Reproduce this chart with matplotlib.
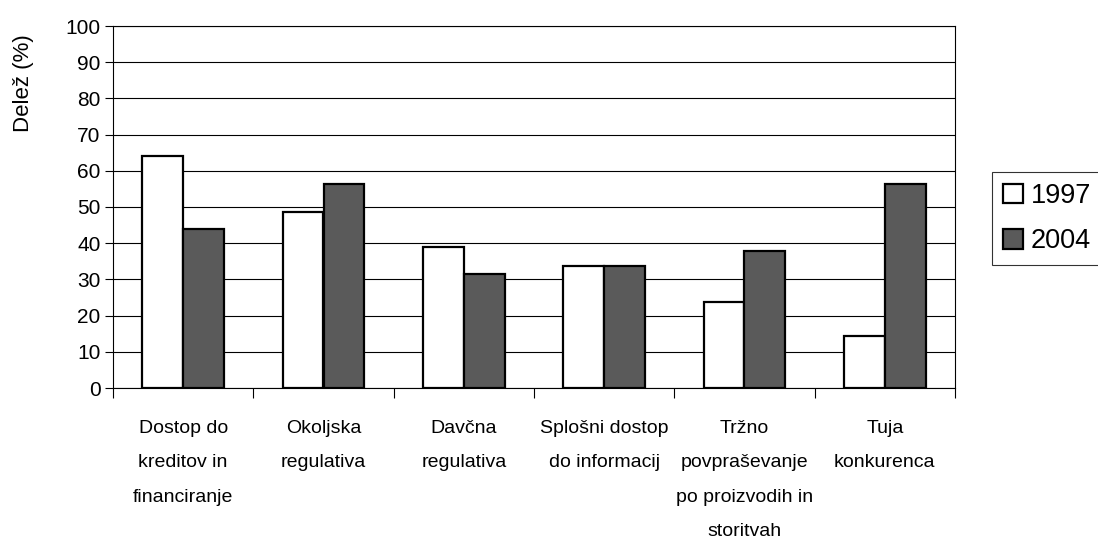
import numpy as np
import matplotlib
matplotlib.use("Agg")
import matplotlib.pyplot as plt

plt.rcParams['font.family'] = ['Liberation Sans', 'DejaVu Sans']

# Data
categories = [
    "Dostop do\nkreditov in\nfinanciranje",
    "Okoljska\nregulativa",
    "Davčna\nregulativa",
    "Splošni dostop\ndo informacij",
    "Tržno\npovpraševanje\npo proizvodih in\nstoritvah",
    "Tuja\nkonkurenca",
]
vals_1997 = [64.0, 48.5, 39.0, 33.7, 23.8, 14.4]
vals_2004 = [44.0, 56.4, 31.5, 33.7, 37.9, 56.4]
series_labels = ["1997", "2004"]
y_ticks = list(range(0, 101, 10))

fig = plt.figure(figsize=(10.98, 5.43), dpi=100)
ax = fig.add_axes([113 / 1098, 1 - 388 / 543, (955 - 113) / 1098, (388 - 26) / 543])

x = np.arange(len(categories))
w = 0.292
ax.bar(x - w / 2, vals_1997, w, color="white", edgecolor="black", linewidth=1.6,
       label=series_labels[0], zorder=3)
ax.bar(x + w / 2, vals_2004, w, color="#5a5a5a", edgecolor="black", linewidth=1.6,
       label=series_labels[1], zorder=3)

ax.set_xlim(-0.5, len(categories) - 0.5)
ax.set_ylim(0, 100)
ax.set_yticks(y_ticks)
ax.yaxis.grid(True, color="black", linewidth=0.8, zorder=0)
ax.tick_params(axis="y", length=6, width=0.8, labelsize=15, pad=3)

# category labels at centres, tick marks at the boundaries
ax.set_xticks(x)
ax.set_xticklabels(categories, fontsize=14, linespacing=2.33, va="top")
ax.tick_params(axis="x", which="major", length=0, pad=23)
ax.set_xticks(np.arange(-0.5, len(categories)), minor=True)
ax.tick_params(axis="x", which="minor", length=7, width=0.8)

for s in ax.spines.values():
    s.set_linewidth(0.8)
    s.set_color("black")

fig.text(24 / 1098, 1 - 83 / 543, "Delež (%)", rotation=90, ha="center", va="center",
         fontsize=16)

leg = fig.legend(loc="upper left", bbox_to_anchor=(992 / 1098, 1 - 172 / 543),
                 fontsize=19.5, frameon=True, fancybox=False, edgecolor="black",
                 handlelength=0.74, handleheight=0.74, handletextpad=0.3,
                 borderpad=0.4, labelspacing=0.72, borderaxespad=0)
leg.get_frame().set_linewidth(0.8)

fig.savefig("out.png", dpi=100)
